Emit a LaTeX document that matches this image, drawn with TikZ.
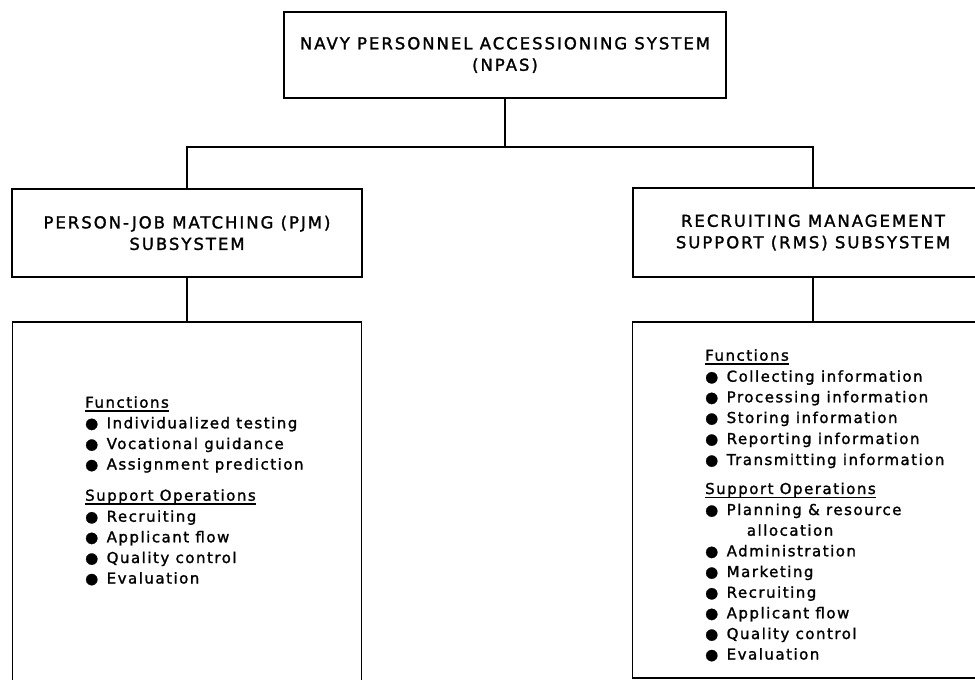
\documentclass[tikz,border=0pt]{standalone}
\usepackage{fontspec}
\setmainfont{DejaVu Sans}[LetterSpace=10,FakeBold=1.5]
\newfontfamily\capsfont{DejaVu Sans}[LetterSpace=12,FakeBold=1.5]
\newcommand\itembullet{\makebox[21.5pt][l]{●}}
\newcommand\headul[1]{\setbox0\hbox{#1}\rlap{\rule[-4pt]{\wd0}{1.4pt}}\box0}
\begin{document}
\begin{tikzpicture}[x=1pt,y=-1pt,
  box/.style={draw, line width=1.8pt, inner sep=0pt},
  head/.style={align=center, font=\capsfont\fontsize{16.5}{21.5}\selectfont},
  item/.style={anchor=base west, inner sep=0pt, font=\fontsize{15}{20}\selectfont},
  link/.style={line width=1.8pt}]
\clip (0,0) rectangle (975,680);
% title boxes
\node[box, head, minimum width=442pt, minimum height=86pt] (npas) at (505,55)
  {NAVY PERSONNEL ACCESSIONING SYSTEM\\(NPAS)};
\node[box, head, minimum width=350pt, minimum height=88pt] (pjm) at (187,233)
  {PERSON-JOB MATCHING (PJM)\\SUBSYSTEM};
\node[box, head, minimum width=360pt, minimum height=89pt] (rms) at (813,232.5)
  {RECRUITING MANAGEMENT\\SUPPORT (RMS) SUBSYSTEM};
% detail boxes
\node[box, minimum width=349pt, minimum height=400pt] (pjmf) at (187,522) {};
\node[box, minimum width=361pt, minimum height=356pt] (rmsf) at (813,500) {};
% connectors
\coordinate (bus) at (505,147);
\draw[link] (npas.south) -- (bus);
\draw[link] (pjm.north) |- (bus) -| (rms.north);
\draw[link] (pjm.south) -- (pjmf.north);
\draw[link] (rms.south) -- (rmsf.north);
% left list
\node[item] (lfh) at (85,407.7) {\headul{Functions}};
\foreach \t/\y [count=\i] in {Individualized testing/428.3, Vocational guidance/449, Assignment prediction/469.5}
  \node[item] (lf\i) at (85,\y) {\itembullet\t};
\node[item] (lsh) at (85,500.7) {\headul{Support Operations}};
\foreach \t/\y [count=\i] in {Recruiting/521.7, Applicant flow/542.3, Quality control/563, Evaluation/583.5}
  \node[item] (ls\i) at (85,\y) {\itembullet\t};
% right list
\node[item] (rfh) at (705,360.7) {\headul{Functions}};
\foreach \t/\y [count=\i] in {Collecting information/381.7, Processing information/402.3, Storing information/423, Reporting information/444, Transmitting information/465}
  \node[item] (rf\i) at (705,\y) {\itembullet\t};
\node[item] (rsh) at (705,494) {\headul{Support Operations}};
\node[item] (rs1) at (705,515) {\itembullet Planning \& resource};
\node[item] (rs1b) at (746.7,535.7) {allocation};
\foreach \t/\y [count=\i from 2] in {Administration/556.3, Marketing/577, Recruiting/597.7, Applicant flow/618.3, Quality control/639, Evaluation/659.5}
  \node[item] (rs\i) at (705,\y) {\itembullet\t};
\end{tikzpicture}
\end{document}
